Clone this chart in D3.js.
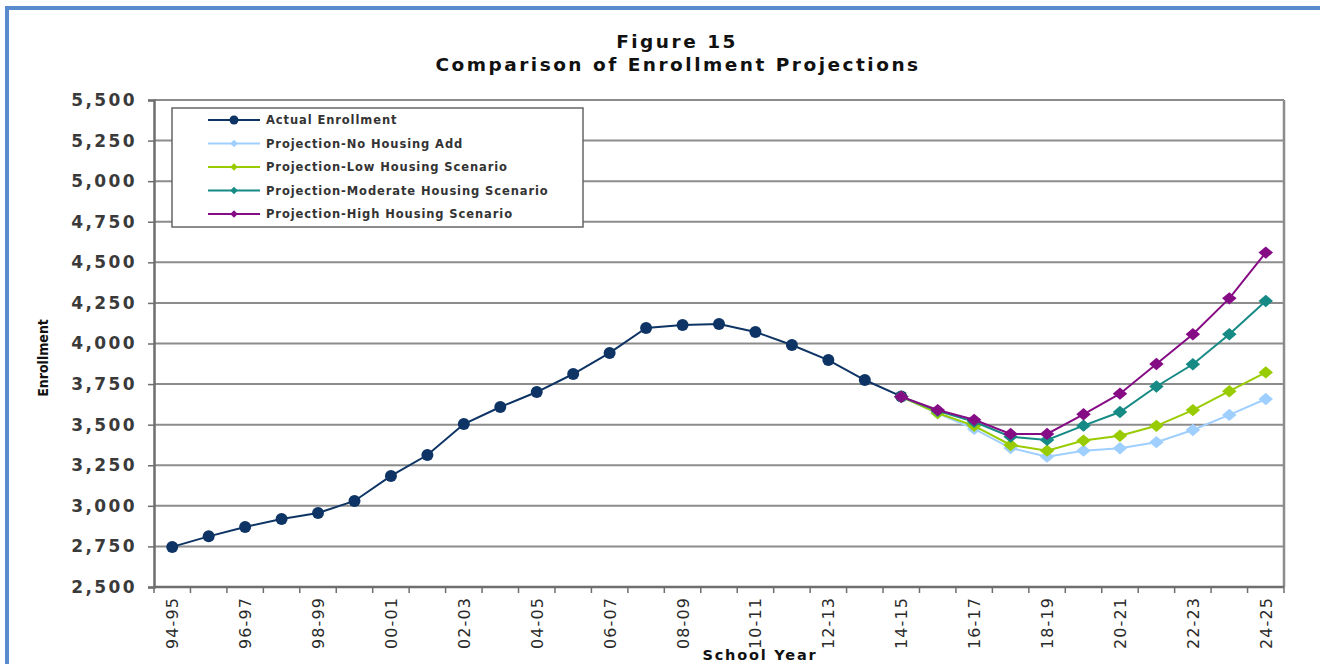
<!DOCTYPE html>
<html>
<head>
<meta charset="utf-8">
<script src="https://cdn.jsdelivr.net/npm/d3@7"></script>
<style>
  html, body { margin: 0; padding: 0; background: #fff; }
  svg { display: block; }
</style>
</head>
<body>
<svg id="chart" width="1320" height="664"></svg>
<script>
const categories = ["94-95","95-96","96-97","97-98","98-99","99-00","00-01","01-02","02-03","03-04",
  "04-05","05-06","06-07","07-08","08-09","09-10","10-11","11-12","12-13","13-14",
  "14-15","15-16","16-17","17-18","18-19","19-20","20-21","21-22","22-23","23-24","24-25"];
const tickLabels = ["94-95","96-97","98-99","00-01","02-03","04-05","06-07","08-09","10-11","12-13",
  "14-15","16-17","18-19","20-21","22-23","24-25"];
const yTicks = [2500,2750,3000,3250,3500,3750,4000,4250,4500,4750,5000,5250,5500];

const actualYears = categories.slice(0, 21);
const actualEnrollment = [2747,2812,2870,2919,2956,3030,3184,3313,3504,3609,
  3701,3812,3942,4096,4114,4120,4071,3991,3898,3775,3674];

const projYears = categories.slice(20);
const projNoHousing = [3672,3570,3474,3356,3303,3340,3355,3392,3467,3560,3658];
const projLow       = [3672,3572,3493,3375,3340,3402,3432,3493,3590,3706,3822];
const projModerate  = [3672,3585,3518,3426,3406,3494,3578,3735,3872,4057,4262];
const projHigh      = [3672,3590,3530,3443,3443,3564,3691,3874,4057,4278,4560];

const seriesNames = ["Actual Enrollment","Projection-No Housing Add","Projection-Low Housing Scenario",
  "Projection-Moderate Housing Scenario","Projection-High Housing Scenario"];
const seriesColors = ["#0d3464","#9fcfff","#99cc00","#168a85","#860c86"];

const svg = d3.select("#chart");
const W = 1320, H = 664;
const m = {left: 154, right: 1284, top: 100, bottom: 587};
const FONT = "'DejaVu Sans', sans-serif";

// frame
svg.append("rect").attr("x",0).attr("y",0).attr("width",W).attr("height",H).attr("fill","#fff");
svg.append("line").attr("x1",5).attr("x2",W).attr("y1",8).attr("y2",8)
  .attr("stroke","#5a8bcc").attr("stroke-width",4);
svg.append("line").attr("x1",7).attr("x2",7).attr("y1",6).attr("y2",H)
  .attr("stroke","#5a8bcc").attr("stroke-width",4);

const x = d3.scaleBand().domain(categories).range([m.left, m.right]).paddingInner(0).paddingOuter(0);
const y = d3.scaleLinear().domain([2500,5500]).range([m.bottom, m.top]);
const cx = d => x(d) + x.bandwidth()/2;

// gridlines
svg.append("g").selectAll("line").data(yTicks.slice(1)).join("line")
  .attr("x1", m.left).attr("x2", m.right)
  .attr("y1", d => y(d)).attr("y2", d => y(d))
  .attr("stroke", "#8c8c8c").attr("stroke-width", 2);
// right border
svg.append("line").attr("x1", m.right).attr("x2", m.right).attr("y1", m.top).attr("y2", m.bottom)
  .attr("stroke", "#8c8c8c").attr("stroke-width", 2.5);

// y axis
const yAxis = d3.axisLeft(y).tickValues(yTicks).tickFormat(d3.format(",")).tickSizeOuter(0).tickSize(6).tickPadding(11);
const gy = svg.append("g").attr("transform", `translate(${m.left},0)`).call(yAxis);
gy.select(".domain").attr("stroke", "#6e6e6e").attr("stroke-width", 2.5);
gy.selectAll(".tick line").attr("stroke", "#6e6e6e").attr("stroke-width", 1.5);
gy.selectAll(".tick text").attr("font-family", FONT).attr("font-size", 17)
  .attr("fill", "#3a3a3a").attr("font-weight", "bold").attr("letter-spacing", "2.4px");

// x axis (ticks at band boundaries)
const gx = svg.append("g").attr("transform", `translate(0,${m.bottom})`);
gx.append("line").attr("x1", m.left).attr("x2", m.right).attr("y1",0).attr("y2",0)
  .attr("stroke", "#6e6e6e").attr("stroke-width", 2.5);
const boundaries = categories.map(c => x(c)).concat([m.right]);
gx.selectAll("line.tk").data(boundaries).join("line").attr("class","tk")
  .attr("x1", d => d).attr("x2", d => d).attr("y1", 0).attr("y2", 6)
  .attr("stroke", "#6e6e6e").attr("stroke-width", 1.5);
gx.selectAll("text.lbl").data(tickLabels).join("text").attr("class","lbl")
  .attr("transform", d => `translate(${cx(d)+6},${10}) rotate(-90)`)
  .attr("text-anchor", "end")
  .attr("font-family", FONT).attr("font-size", 16).attr("letter-spacing", "1.1px")
  .attr("fill", "#2a2a2a").text(d => d);

// axis titles
svg.append("text").attr("transform", "translate(48,358) rotate(-90)")
  .attr("text-anchor","middle").attr("font-family","'DejaVu Sans Condensed','DejaVu Sans', sans-serif")
  .attr("font-weight","bold").attr("font-size",14).attr("fill","#111").text("Enrollment");
svg.append("text").attr("x", 760).attr("y", 660).attr("text-anchor","middle")
  .attr("font-family",FONT).attr("font-weight","bold").attr("font-size",14.5)
  .attr("letter-spacing","1.8px").attr("fill","#111").text("School Year");

// title
svg.append("text").attr("x", 677).attr("y", 48).attr("text-anchor","middle")
  .attr("font-family",FONT).attr("font-weight","bold").attr("font-size",18.5)
  .attr("fill","#111").attr("letter-spacing","2.5px").text("Figure 15");
svg.append("text").attr("x", 678).attr("y", 71).attr("text-anchor","middle")
  .attr("font-family",FONT).attr("font-weight","bold").attr("font-size",18.5)
  .attr("fill","#111").attr("letter-spacing","2.5px").text("Comparison of Enrollment Projections");

// lines
const line = d3.line().x(d => cx(d.c)).y(d => y(d.v));
const actualData = actualYears.map((c,i) => ({c, v: actualEnrollment[i]}));
const projSeries = [projNoHousing, projLow, projModerate, projHigh].map(arr => projYears.map((c,i) => ({c, v: arr[i]})));

svg.append("path").datum(actualData).attr("d", line).attr("fill","none")
  .attr("stroke", seriesColors[0]).attr("stroke-width", 2);
svg.append("g").selectAll("circle").data(actualData).join("circle")
  .attr("cx", d => cx(d.c)).attr("cy", d => y(d.v)).attr("r", 6).attr("fill", seriesColors[0]);

const diamond = d3.symbol(d3.symbolSquare, 90);
projSeries.forEach((data, k) => {
  const col = seriesColors[k+1];
  svg.append("path").datum(data).attr("d", line).attr("fill","none")
    .attr("stroke", col).attr("stroke-width", 2);
  svg.append("g").selectAll("path").data(data).join("path")
    .attr("d", diamond)
    .attr("transform", d => `translate(${cx(d.c)},${y(d.v)}) scale(1.08,0.92) rotate(45)`)
    .attr("fill", col);
});

// legend
const lg = svg.append("g");
lg.append("rect").attr("x", 172).attr("y", 108).attr("width", 411).attr("height", 119)
  .attr("fill", "#fff").attr("stroke", "#666").attr("stroke-width", 1.5);
seriesNames.forEach((name, i) => {
  const ly = 120 + i * 23.5;
  lg.append("line").attr("x1", 208).attr("x2", 260).attr("y1", ly).attr("y2", ly)
    .attr("stroke", seriesColors[i]).attr("stroke-width", 2);
  if (i === 0) {
    lg.append("circle").attr("cx", 234).attr("cy", ly).attr("r", 4.5).attr("fill", seriesColors[i]);
  } else {
    lg.append("path").attr("d", d3.symbol(d3.symbolSquare, 28))
      .attr("transform", `translate(234,${ly}) rotate(45)`).attr("fill", seriesColors[i]);
  }
  lg.append("text").attr("x", 266).attr("y", ly + 4)
    .attr("font-family", FONT).attr("font-size", 11.5).attr("font-weight", "bold")
    .attr("letter-spacing", "0.9px").attr("fill", "#333").text(name);
});
</script>
</body>
</html>
